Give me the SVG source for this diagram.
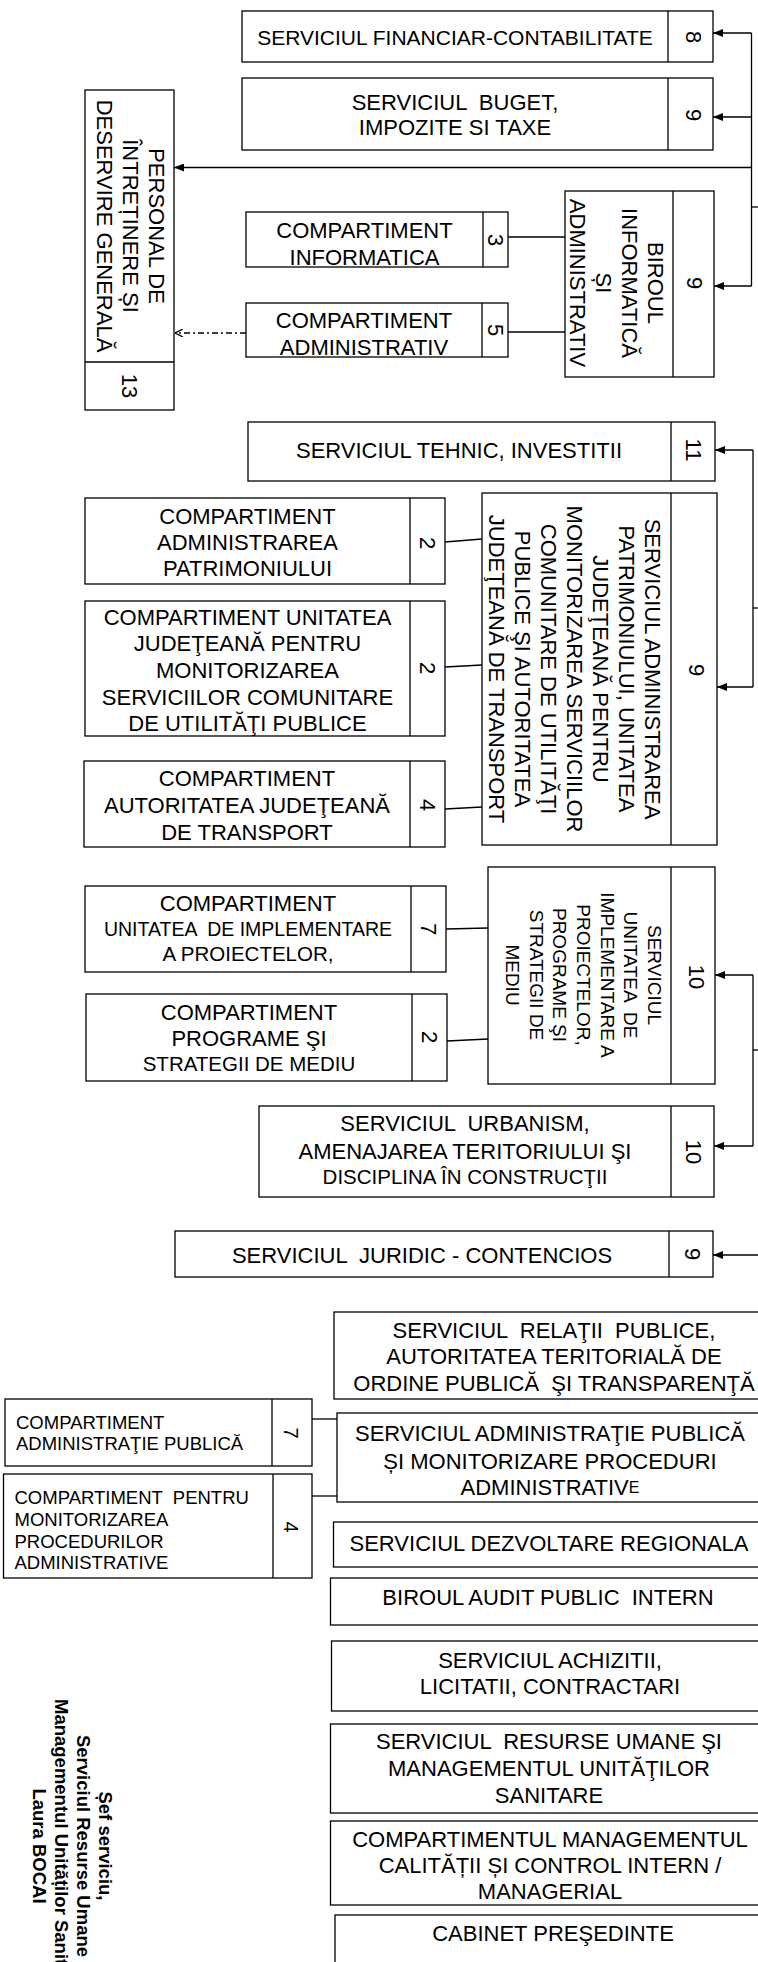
<svg xmlns="http://www.w3.org/2000/svg" width="758" height="1962" viewBox="0 0 758 1962">
<style>
.b{fill:#fff;stroke:#000;stroke-width:1.3}
.d{fill:none;stroke:#000;stroke-width:1.3}
.t{font-family:"Liberation Sans",Arial,sans-serif;font-size:22px;text-anchor:middle;dominant-baseline:central;fill:#000}
.l{font-family:"Liberation Sans",Arial,sans-serif;font-size:18.5px;dominant-baseline:central;fill:#000}
.s{font-family:"Liberation Sans",Arial,sans-serif;font-size:18.5px;font-weight:bold;text-anchor:middle;dominant-baseline:central;fill:#000}
.c{fill:none;stroke:#000;stroke-width:1.3}
</style>
<defs>
<marker id="ar" viewBox="0 0 10 8" refX="10" refY="4" markerWidth="10" markerHeight="8" markerUnits="userSpaceOnUse" orient="auto"><path d="M0,0 L10,4 L0,8 z" fill="#000"/></marker>
<marker id="oa" viewBox="0 0 8 8" refX="8" refY="4" markerWidth="8" markerHeight="8" markerUnits="userSpaceOnUse" orient="auto"><path d="M0,0 L8,4 L0,8" fill="none" stroke="#000" stroke-width="1.2"/></marker>
</defs>

<g id="connectors">
<path class="c" d="M751.5,33 V286"/>
<path class="c" d="M751.5,33 H713" marker-end="url(#ar)"/>
<path class="c" d="M751.5,117 H713" marker-end="url(#ar)"/>
<path class="c" d="M751.5,286 H714" marker-end="url(#ar)"/>
<path class="c" d="M751.5,167.5 H174" marker-end="url(#ar)"/>
<path class="c" d="M751.5,207 H758"/>
<path class="c" d="M508,237 H565"/>
<path class="c" d="M508,332 H565"/>
<path class="c" d="M246,333 H175" stroke-dasharray="6 3 2 3" marker-end="url(#oa)"/>
<path class="c" d="M753,450 V687"/>
<path class="c" d="M753,450 H715" marker-end="url(#ar)"/>
<path class="c" d="M753,687 H717" marker-end="url(#ar)"/>
<path class="c" d="M753,608 H758"/>
<path class="c" d="M445,542 L482,539"/>
<path class="c" d="M445,667 L482,665"/>
<path class="c" d="M445,809 L482,807"/>
<path class="c" d="M753,975 V1146"/>
<path class="c" d="M753,975 H715" marker-end="url(#ar)"/>
<path class="c" d="M753,1146 H714" marker-end="url(#ar)"/>
<path class="c" d="M753,1050 H758"/>
<path class="c" d="M446,929 L488,928"/>
<path class="c" d="M447,1041 L488,1039"/>
<path class="c" d="M758,1255 H713" marker-end="url(#ar)"/>
<path class="c" d="M312,1419 H337"/>
<path class="c" d="M312,1496 H337"/>
</g>

<g id="n-financiar">
<rect class="b" x="242" y="11" width="471" height="51"/>
<path class="d" d="M668,11 V62"/>
<text class="t" x="455" y="37" style="font-size:21px">SERVICIUL FINANCIAR-CONTABILITATE</text>
<text class="t" transform="rotate(90 693 37)" x="693" y="37">8</text>
</g>

<g id="n-buget">
<rect class="b" x="242" y="78" width="471" height="72"/>
<path class="d" d="M668,78 V150"/>
<text class="t" x="455" y="102" xml:space="preserve">SERVICIUL  BUGET,</text>
<text class="t" x="455" y="127">IMPOZITE SI TAXE</text>
<text class="t" transform="rotate(90 693 115)" x="693" y="115">9</text>
</g>

<g id="n-birou-info">
<rect class="b" x="565" y="191" width="149" height="186"/>
<path class="d" d="M673,191 V377"/>
<text class="t" transform="rotate(90 617 283)"><tspan x="617" y="244">BIROUL</tspan><tspan x="617" y="270">INFORMATICĂ</tspan><tspan x="617" y="296">ȘI</tspan><tspan x="617" y="322">ADMINISTRATIV</tspan></text>
<text class="t" transform="rotate(90 694 283)" x="694" y="283">9</text>
</g>

<g id="n-comp-informatica">
<rect class="b" x="246" y="212" width="262" height="55"/>
<path class="d" d="M483,212 V267"/>
<text class="t" x="364.5" y="230">COMPARTIMENT</text>
<text class="t" x="364.5" y="257">INFORMATICA</text>
<text class="t" transform="rotate(90 495.5 240)" x="495.5" y="240">3</text>
</g>

<g id="n-comp-administrativ">
<rect class="b" x="246" y="303" width="262" height="54"/>
<path class="d" d="M482,303 V357"/>
<text class="t" x="364" y="320">COMPARTIMENT</text>
<text class="t" x="364" y="347">ADMINISTRATIV</text>
<text class="t" transform="rotate(90 495 330)" x="495" y="330">5</text>
</g>

<g id="n-personal">
<rect class="b" x="85" y="90" width="89" height="320"/>
<path class="d" d="M85,362 H174"/>
<text class="t" transform="rotate(90 131 226)"><tspan x="131" y="200">PERSONAL DE</tspan><tspan x="131" y="226">ÎNTREȚINERE ȘI</tspan><tspan x="131" y="252">DESERVIRE GENERALĂ</tspan></text>
<text class="t" transform="rotate(90 129.5 386)" x="129.5" y="386">13</text>
</g>

<g id="n-tehnic">
<rect class="b" x="248" y="422" width="467" height="59"/>
<path class="d" d="M671,422 V481"/>
<text class="t" x="459" y="450">SERVICIUL TEHNIC, INVESTITII</text>
<text class="t" transform="rotate(90 693 450)" x="693" y="450">11</text>
</g>

<g id="n-serv-patrimoniu">
<rect class="b" x="482" y="493" width="235" height="352"/>
<path class="d" d="M671,493 V845"/>
<text class="t" transform="rotate(90 575 669)"><tspan x="575" y="591">SERVICIUL ADMINISTRAREA</tspan><tspan x="575" y="617">PATRIMONIULUI, UNITATEA</tspan><tspan x="575" y="643">JUDEŢEANĂ PENTRU</tspan><tspan x="575" y="669">MONITORIZAREA SERVICIILOR</tspan><tspan x="575" y="695">COMUNITARE DE UTILITĂŢI</tspan><tspan x="575" y="721">PUBLICE ŞI AUTORITATEA</tspan><tspan x="575" y="747">JUDEŢEANĂ DE TRANSPORT</tspan></text>
<text class="t" transform="rotate(90 696 670)" x="696" y="670">9</text>
</g>

<g id="n-comp-patrimoniu">
<rect class="b" x="85" y="498" width="360" height="86"/>
<path class="d" d="M410,498 V584"/>
<text class="t" x="247.5" y="516">COMPARTIMENT</text>
<text class="t" x="247.5" y="542">ADMINISTRAREA</text>
<text class="t" x="247.5" y="568">PATRIMONIULUI</text>
<text class="t" transform="rotate(90 427 543)" x="427" y="543">2</text>
</g>

<g id="n-comp-utilitati">
<rect class="b" x="85" y="601" width="360" height="135"/>
<path class="d" d="M410,601 V736"/>
<text class="t" x="247.5" y="617">COMPARTIMENT UNITATEA</text>
<text class="t" x="247.5" y="643">JUDEŢEANĂ PENTRU</text>
<text class="t" x="247.5" y="670">MONITORIZAREA</text>
<text class="t" x="247.5" y="697">SERVICIILOR COMUNITARE</text>
<text class="t" x="247.5" y="723">DE UTILITĂŢI PUBLICE</text>
<text class="t" transform="rotate(90 427 668)" x="427" y="668">2</text>
</g>

<g id="n-comp-transport">
<rect class="b" x="84" y="761" width="361" height="86"/>
<path class="d" d="M410,761 V847"/>
<text class="t" x="247" y="778">COMPARTIMENT</text>
<text class="t" x="247" y="805">AUTORITATEA JUDEŢEANĂ</text>
<text class="t" x="247" y="832">DE TRANSPORT</text>
<text class="t" transform="rotate(90 427 805)" x="427" y="805">4</text>
</g>

<g id="n-serv-proiecte">
<rect class="b" x="488" y="867" width="227" height="217"/>
<path class="d" d="M671,867 V1084"/>
<text class="t" style="font-size:19px" transform="rotate(90 584 975)" xml:space="preserve"><tspan x="584" y="904">SERVICIUL</tspan><tspan x="584" y="927.7">UNITATEA  DE</tspan><tspan x="584" y="951.4">IMPLEMENTARE A</tspan><tspan x="584" y="975">PROIECTELOR,</tspan><tspan x="584" y="998.6">PROGRAME ŞI</tspan><tspan x="584" y="1022.3">STRATEGII DE</tspan><tspan x="584" y="1046">MEDIU</tspan></text>
<text class="t" transform="rotate(90 696 977)" x="696" y="977">10</text>
</g>

<g id="n-comp-implementare">
<rect class="b" x="85" y="886" width="361" height="86"/>
<path class="d" d="M411,886 V972"/>
<text class="t" x="248" y="903">COMPARTIMENT</text>
<text class="t" x="248" y="929" style="font-size:19.5px" xml:space="preserve">UNITATEA  DE IMPLEMENTARE</text>
<text class="t" x="248" y="953" style="font-size:20.5px">A PROIECTELOR,</text>
<text class="t" transform="rotate(90 428 929)" x="428" y="929">7</text>
</g>

<g id="n-comp-mediu">
<rect class="b" x="86" y="994" width="361" height="87"/>
<path class="d" d="M412,994 V1081"/>
<text class="t" x="249" y="1012">COMPARTIMENT</text>
<text class="t" x="249" y="1038">PROGRAME ŞI</text>
<text class="t" x="249" y="1063" style="font-size:20.5px">STRATEGII DE MEDIU</text>
<text class="t" transform="rotate(90 429 1037)" x="429" y="1037">2</text>
</g>

<g id="n-urbanism">
<rect class="b" x="259" y="1106" width="455" height="91"/>
<path class="d" d="M671,1106 V1197"/>
<text class="t" x="465" y="1123" xml:space="preserve">SERVICIUL  URBANISM,</text>
<text class="t" x="465" y="1151">AMENAJAREA TERITORIULUI ŞI</text>
<text class="t" x="465" y="1176" style="font-size:20.5px">DISCIPLINA ÎN CONSTRUCŢII</text>
<text class="t" transform="rotate(90 693 1152)" x="693" y="1152">10</text>
</g>

<g id="n-juridic">
<rect class="b" x="175" y="1231" width="538" height="46"/>
<path class="d" d="M669,1231 V1277"/>
<text class="t" x="422" y="1255" xml:space="preserve">SERVICIUL  JURIDIC - CONTENCIOS</text>
<text class="t" transform="rotate(90 692 1254)" x="692" y="1254">9</text>
</g>

<g id="n-relatii">
<rect class="b" x="334" y="1312" width="450" height="87"/>
<text class="t" x="554" y="1330" xml:space="preserve">SERVICIUL  RELAŢII  PUBLICE,</text>
<text class="t" x="554" y="1356">AUTORITATEA TERITORIALĂ DE</text>
<text class="t" x="554" y="1383" xml:space="preserve">ORDINE PUBLICĂ  ŞI TRANSPARENŢĂ</text>
</g>

<g id="n-admin-publica">
<rect class="b" x="337" y="1413" width="450" height="89"/>
<text class="t" x="550" y="1433">SERVICIUL ADMINISTRAŢIE PUBLICĂ</text>
<text class="t" x="550" y="1461">ȘI MONITORIZARE PROCEDURI</text>
<text class="t" x="550" y="1487">ADMINISTRATIV<tspan style="font-size:16px">E</tspan></text>
</g>

<g id="n-comp-admin-publica">
<rect class="b" x="5" y="1399" width="307" height="67"/>
<path class="d" d="M272,1399 V1466"/>
<text class="l" x="16" y="1422">COMPARTIMENT</text>
<text class="l" x="16" y="1443">ADMINISTRAŢIE PUBLICĂ</text>
<text class="t" transform="rotate(90 291 1433)" x="291" y="1433" style="font-size:20px">7</text>
</g>

<g id="n-comp-proceduri">
<rect class="b" x="3.5" y="1474" width="308.5" height="104"/>
<path class="d" d="M273,1474 V1578"/>
<text class="l" x="14.5" y="1497" xml:space="preserve">COMPARTIMENT  PENTRU</text>
<text class="l" x="14.5" y="1519">MONITORIZAREA</text>
<text class="l" x="14.5" y="1541">PROCEDURILOR</text>
<text class="l" x="14.5" y="1562">ADMINISTRATIVE</text>
<text class="t" transform="rotate(90 291 1527)" x="291" y="1527" style="font-size:20px">4</text>
</g>

<g id="n-dezvoltare">
<rect class="b" x="333.5" y="1522" width="450" height="45"/>
<text class="t" x="549" y="1543">SERVICIUL DEZVOLTARE REGIONALA</text>
</g>

<g id="n-audit">
<rect class="b" x="330.5" y="1578" width="450" height="47"/>
<text class="t" x="548" y="1597" xml:space="preserve">BIROUL AUDIT PUBLIC  INTERN</text>
</g>

<g id="n-achizitii">
<rect class="b" x="331.5" y="1641" width="450" height="70"/>
<text class="t" x="550" y="1660">SERVICIUL ACHIZITII,</text>
<text class="t" x="550" y="1686">LICITATII, CONTRACTARI</text>
</g>

<g id="n-resurse">
<rect class="b" x="330.5" y="1724" width="450" height="89"/>
<text class="t" x="549" y="1741" xml:space="preserve">SERVICIUL  RESURSE UMANE ŞI</text>
<text class="t" x="549" y="1768">MANAGEMENTUL UNITĂŢILOR</text>
<text class="t" x="549" y="1795">SANITARE</text>
</g>

<g id="n-calitate">
<rect class="b" x="330.5" y="1821" width="450" height="84"/>
<text class="t" x="550" y="1839">COMPARTIMENTUL MANAGEMENTUL</text>
<text class="t" x="550" y="1865">CALITĂȚII ȘI CONTROL INTERN /</text>
<text class="t" x="550" y="1891">MANAGERIAL</text>
</g>

<g id="n-cabinet">
<rect class="b" x="335" y="1915" width="450" height="60"/>
<text class="t" x="553" y="1933">CABINET PREŞEDINTE</text>
</g>

<g id="signature">
<text class="s" transform="rotate(90 73 1846)"><tspan x="73" y="1813">Șef serviciu,</tspan><tspan x="73" y="1835">Serviciul Resurse Umane</tspan><tspan x="73" y="1857">Managementul Unităților Sanitare</tspan><tspan x="73" y="1879">Laura BOCAI</tspan></text>
</g>
</svg>
